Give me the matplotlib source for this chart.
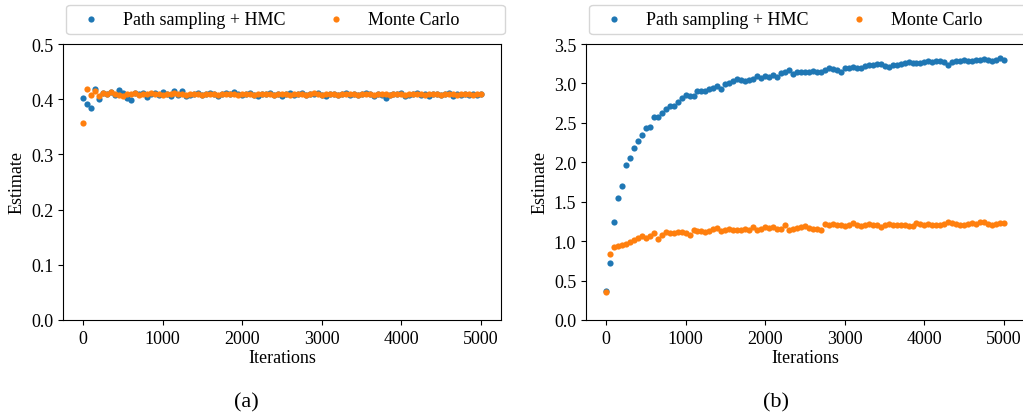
import matplotlib
matplotlib.use("Agg")
import matplotlib.pyplot as plt

plt.rcParams['font.family'] = ['Liberation Serif', 'DejaVu Serif']
plt.rcParams['font.size'] = 13

iterations = list(range(0, 5001, 50))

hmc_a = [0.403, 0.391, 0.384, 0.418, 0.401, 0.411, 0.409, 0.413, 0.408, 0.416,
         0.412, 0.402, 0.399, 0.411, 0.410, 0.412, 0.404, 0.410, 0.411, 0.408,
         0.413, 0.410, 0.405, 0.414, 0.407, 0.415, 0.406, 0.408, 0.410, 0.411,
         0.407, 0.409, 0.411, 0.410, 0.406, 0.409, 0.411, 0.410, 0.413, 0.409,
         0.407, 0.410, 0.411, 0.408, 0.406, 0.410, 0.409, 0.411, 0.408, 0.410,
         0.406, 0.409, 0.411, 0.408, 0.410, 0.411, 0.407, 0.409, 0.410, 0.412,
         0.408, 0.406, 0.409, 0.410, 0.407, 0.409, 0.411, 0.408, 0.409, 0.407,
         0.410, 0.411, 0.409, 0.405, 0.409, 0.408, 0.403, 0.408, 0.410, 0.409,
         0.411, 0.406, 0.407, 0.409, 0.411, 0.408, 0.410, 0.406, 0.409, 0.410,
         0.407, 0.409, 0.411, 0.406, 0.409, 0.408, 0.410, 0.407, 0.409, 0.408,
         0.409]
mc_a = [0.357, 0.419, 0.408, 0.414, 0.406, 0.412, 0.409, 0.413, 0.410, 0.408,
        0.405, 0.410, 0.409, 0.411, 0.408, 0.410, 0.409, 0.411, 0.409, 0.410,
        0.408, 0.410, 0.409, 0.411, 0.409, 0.410, 0.408, 0.409, 0.410, 0.409,
        0.408, 0.410, 0.409, 0.410, 0.408, 0.409, 0.410, 0.409, 0.410, 0.408,
        0.409, 0.410, 0.409, 0.408, 0.410, 0.409, 0.410, 0.409, 0.408, 0.409,
        0.410, 0.409, 0.408, 0.409, 0.410, 0.409, 0.408, 0.409, 0.411, 0.409,
        0.408, 0.409, 0.410, 0.409, 0.408, 0.409, 0.410, 0.409, 0.409, 0.408,
        0.409, 0.410, 0.409, 0.408, 0.409, 0.410, 0.409, 0.408, 0.409, 0.409,
        0.410, 0.408, 0.409, 0.409, 0.410, 0.409, 0.408, 0.409, 0.410, 0.409,
        0.408, 0.409, 0.410, 0.409, 0.408, 0.409, 0.409, 0.410, 0.408, 0.409,
        0.409]

hmc_b = [0.37, 0.72, 1.24, 1.55, 1.70, 1.96, 2.05, 2.18, 2.27, 2.35,
         2.43, 2.45, 2.57, 2.58, 2.63, 2.68, 2.72, 2.72, 2.77, 2.81,
         2.85, 2.84, 2.84, 2.90, 2.90, 2.90, 2.93, 2.94, 2.97, 2.93,
         2.99, 3.01, 3.03, 3.05, 3.04, 3.03, 3.04, 3.05, 3.09, 3.07,
         3.10, 3.08, 3.11, 3.08, 3.13, 3.15, 3.17, 3.12, 3.15, 3.14,
         3.14, 3.15, 3.16, 3.15, 3.14, 3.17, 3.19, 3.18, 3.17, 3.15,
         3.19, 3.20, 3.21, 3.20, 3.20, 3.22, 3.24, 3.24, 3.25, 3.25,
         3.22, 3.21, 3.23, 3.24, 3.25, 3.26, 3.27, 3.26, 3.26, 3.26,
         3.27, 3.28, 3.27, 3.28, 3.28, 3.27, 3.24, 3.27, 3.28, 3.28,
         3.30, 3.29, 3.29, 3.30, 3.30, 3.31, 3.30, 3.28, 3.30, 3.32,
         3.30]
mc_b = [0.36, 0.84, 0.92, 0.94, 0.95, 0.97, 0.99, 1.02, 1.04, 1.06,
        1.04, 1.07, 1.10, 1.03, 1.08, 1.11, 1.10, 1.10, 1.11, 1.11,
        1.10, 1.08, 1.14, 1.13, 1.13, 1.12, 1.13, 1.15, 1.17, 1.13,
        1.14, 1.16, 1.14, 1.14, 1.14, 1.15, 1.14, 1.18, 1.14, 1.16,
        1.18, 1.17, 1.18, 1.16, 1.15, 1.20, 1.14, 1.16, 1.17, 1.18,
        1.19, 1.17, 1.16, 1.15, 1.145, 1.22, 1.21, 1.22, 1.20, 1.20,
        1.19, 1.21, 1.23, 1.21, 1.19, 1.21, 1.22, 1.21, 1.20, 1.18,
        1.21, 1.22, 1.21, 1.20, 1.20, 1.21, 1.19, 1.19, 1.23, 1.22,
        1.21, 1.22, 1.21, 1.20, 1.21, 1.22, 1.245, 1.23, 1.22, 1.21,
        1.20, 1.22, 1.23, 1.22, 1.24, 1.245, 1.22, 1.20, 1.22, 1.23,
        1.23]

labels = ["Path sampling + HMC", "Monte Carlo"]
yticks_a = [0.0, 0.1, 0.2, 0.3, 0.4, 0.5]
yticks_b = [0.0, 0.5, 1.0, 1.5, 2.0, 2.5, 3.0, 3.5]
xticks = [0, 1000, 2000, 3000, 4000, 5000]

W, H = 1023, 414
fig = plt.figure(figsize=(W / 100, H / 100), dpi=100)
ax_a = fig.add_axes([63 / W, (H - 321) / H, 438 / W, 276 / H])
ax_b = fig.add_axes([586 / W, (H - 321) / H, 438 / W, 276 / H])


def widen_frame(leg, ax, left_px, right_px):
    patch = leg.legendPatch
    orig = patch.set_bounds

    def set_bounds(left, bottom=None, width=None, height=None):
        if bottom is None:
            left, bottom, width, height = left
        axbb = ax.get_window_extent()
        new_left = axbb.x0 + left_px
        new_right = axbb.x1 + right_px
        orig(new_left, bottom, new_right - new_left, height)

    patch.set_bounds = set_bounds


for ax, hmc, mc, yt, cap, capx in [(ax_a, hmc_a, mc_a, yticks_a, "(a)", 246),
                                    (ax_b, hmc_b, mc_b, yticks_b, "(b)", 776)]:
    ax.scatter(iterations, hmc, s=20, color="#1f77b4", label=labels[0], linewidths=0)
    ax.scatter(iterations, mc, s=20, color="#ff7f0e", label=labels[1], linewidths=0)
    ax.set_xticks(xticks)
    ax.set_yticks(yt)
    ax.set_ylim(yt[0], yt[-1])
    ax.set_xlim(-250, 5250)
    ax.yaxis.set_major_formatter(matplotlib.ticker.FormatStrFormatter('%.1f'))
    ax.set_xlabel("Iterations", labelpad=2)
    ax.set_ylabel("Estimate")
    leg = ax.legend(loc="lower left", bbox_to_anchor=(0.007 + 7 / 438, 1.035), ncol=2,
                    fontsize=13, borderaxespad=0, handletextpad=1.1,
                    handlelength=1.33, columnspacing=2.13, borderpad=0.35)
    widen_frame(leg, ax, 3, 4)
    fig.text(capx / W, 1 - 403 / H, cap, ha="center", va="center", fontsize=16)

fig.savefig("out.png", dpi=100)
